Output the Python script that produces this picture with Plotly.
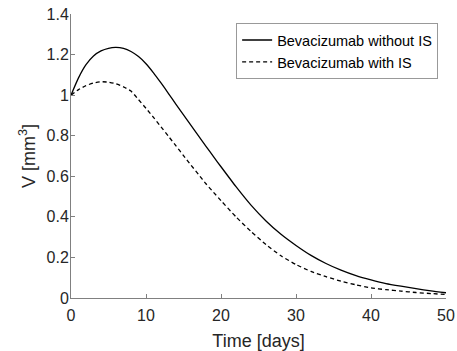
import plotly.graph_objects as go

t_days = [0, 1, 2, 3, 4, 5, 6, 7, 8, 9, 10, 11, 12, 13, 14, 15, 16, 17, 18, 19, 20, 22, 24,
          26, 28, 30, 32, 34, 36, 38, 40, 42, 44, 46, 48, 50]
v_without_is = [1.000, 1.085, 1.150, 1.193, 1.218, 1.231, 1.235, 1.230, 1.215, 1.190, 1.155,
                1.110, 1.060, 1.008, 0.955, 0.903, 0.851, 0.799, 0.748, 0.697, 0.647, 0.549,
                0.458, 0.380, 0.314, 0.259, 0.210, 0.170, 0.137, 0.110, 0.089, 0.071, 0.058,
                0.046, 0.035, 0.026]
v_with_is = [1.000, 1.027, 1.047, 1.060, 1.066, 1.064, 1.056, 1.041, 1.020, 0.978, 0.935,
             0.890, 0.844, 0.797, 0.750, 0.702, 0.655, 0.609, 0.563, 0.521, 0.480, 0.400,
             0.328, 0.263, 0.208, 0.165, 0.131, 0.105, 0.083, 0.065, 0.050, 0.041, 0.034,
             0.027, 0.022, 0.017]

series_names = ["Bevacizumab without IS", "Bevacizumab with IS"]
x_ticks = [0, 10, 20, 30, 40, 50]
y_ticks = [0, 0.2, 0.4, 0.6, 0.8, 1.0, 1.2, 1.4]

FONT = "Arial, Liberation Sans, sans-serif"
AX = "#808080"
TXT = "#262626"

fig = go.Figure()
fig.add_trace(go.Scatter(x=t_days, y=v_without_is, mode="lines", name=series_names[0],
                         line=dict(color="black", width=1.3, shape="spline", smoothing=0.5)))
fig.add_trace(go.Scatter(x=t_days, y=v_with_is, mode="lines", name=series_names[1],
                         line=dict(color="black", width=1.3, dash="4px,3px", shape="spline", smoothing=0.5)))

fig.update_layout(
    width=457, height=351,
    margin=dict(l=71, r=11, t=14, b=53),
    paper_bgcolor="white", plot_bgcolor="white",
    font=dict(family=FONT, color=TXT, size=16),
    showlegend=True,
    legend=dict(x=0.979, xanchor="right", y=0.968, yanchor="top",
                bgcolor="white", bordercolor="#999999", borderwidth=1,
                font=dict(family=FONT, size=14.5, color="black"),
                tracegroupgap=0),
)
fig.update_xaxes(range=[0, 50], tickvals=x_ticks, ticks="inside", ticklen=4, tickcolor=AX,
                 showline=True, linecolor=AX, linewidth=1, showgrid=False, zeroline=False,
                 automargin=False, ticklabelstandoff=3,
                 tickfont=dict(size=16, color=TXT),
                 title=dict(text="Time [days]", font=dict(size=18, color=TXT), standoff=12))
fig.update_yaxes(range=[0, 1.4], tickvals=y_ticks, ticks="inside", ticklen=4, tickcolor=AX,
                 showline=True, linecolor=AX, linewidth=1, showgrid=False, zeroline=False,
                 automargin=False, ticklabelstandoff=-2,
                 tickfont=dict(size=16, color=TXT),
                 title=dict(text="V [mm<sup>3</sup>]", font=dict(size=18, color=TXT), standoff=6))

fig.write_html("out.html")
